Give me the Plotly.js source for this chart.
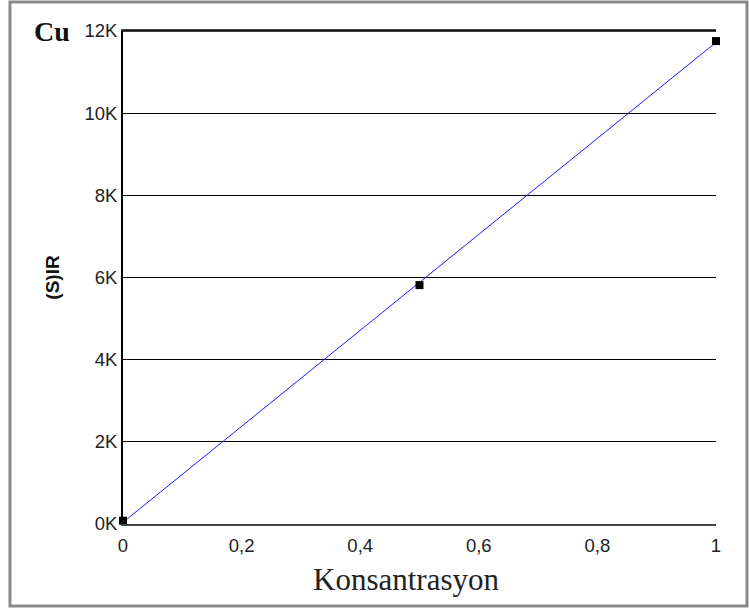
<!DOCTYPE html>
<html><head><meta charset="utf-8">
<script src="https://cdn.plot.ly/plotly-3.0.1.min.js"></script>
<style>html,body{margin:0;padding:0;background:#fff}#c{width:749px;height:615px}</style>
</head><body><div id="c"></div>
<script>
const concX = [0, 0.5, 1];
const irY = [80, 5815, 11755];
const fitX = [0, 1];
const fitY = [40, 11724];
const yTickVals = [0, 2000, 4000, 6000, 8000, 10000, 12000];
const yTickText = ['0K', '2K', '4K', '6K', '8K', '10K', '12K'];
const xTickVals = [0, 0.2, 0.4, 0.6, 0.8, 1];
const xTickText = ['0', '0,2', '0,4', '0,6', '0,8', '1'];

const traces = [
  {x: fitX, y: fitY, mode: 'lines', line: {color: '#1a1aff', width: 1}, hoverinfo: 'skip'},
  {x: concX, y: irY, mode: 'markers', marker: {symbol: 'square', color: '#000', size: 8}, cliponaxis: false}
];
const tf = {family: 'Liberation Sans, Arial, sans-serif', size: 18.5, color: '#222'};
const layout = {
  width: 749, height: 615,
  margin: {l: 123, r: 33, t: 31, b: 91},
  showlegend: false,
  paper_bgcolor: '#fff', plot_bgcolor: '#fff',
  font: tf,
  xaxis: {
    range: [0, 1], tickvals: xTickVals, ticktext: xTickText,
    showgrid: false, zeroline: false, showline: true, linecolor: '#444', linewidth: 2,
    mirror: true, ticks: '', ticklabelstandoff: 4,
    tickfont: tf
  },
  yaxis: {
    range: [0, 12000], tickvals: yTickVals, ticktext: yTickText,
    showgrid: true, gridcolor: '#000', gridwidth: 1.3, zeroline: false,
    showline: true, linecolor: '#000', linewidth: 2, mirror: false, ticks: '',
    tickfont: tf,
    title: {text: '<b>(S)IR</b>', font: {family: 'Liberation Sans, Arial, sans-serif', size: 19, color: '#111'}, standoff: 20}
  },
  shapes: [
    {type: 'rect', xref: 'paper', yref: 'paper', x0: -0.1906, x1: 1.0523, y0: -0.1663, y1: 1.0588,
     line: {color: '#8a8a8a', width: 3}, layer: 'below'},
    {type: 'line', xref: 'paper', yref: 'paper', x0: 0, x1: 1, y0: 1, y1: 1, line: {color: '#000', width: 1.3}}
  ],
  annotations: [
    {text: '<b>Cu</b>', xref: 'paper', yref: 'paper', x: -0.153, y: 1.0, xanchor: 'left', yanchor: 'middle',
     showarrow: false, font: {family: 'Liberation Serif, Times New Roman, serif', size: 28, color: '#111'}},
    {text: 'Konsantrasyon', xref: 'paper', yref: 'paper', x: 0.478, y: -0.113, xanchor: 'center', yanchor: 'middle',
     showarrow: false, font: {family: 'Liberation Serif, Times New Roman, serif', size: 31, color: '#222'}}
  ]
};
Plotly.newPlot('c', traces, layout, {displayModeBar: false, staticPlot: true});
</script></body></html>
